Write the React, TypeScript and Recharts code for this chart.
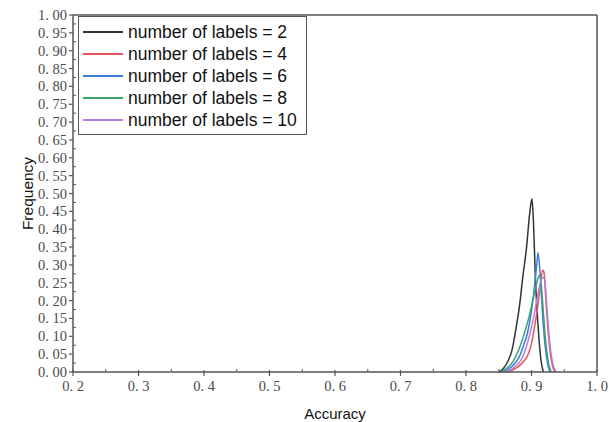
import { LineChart, Line, XAxis, YAxis, Label, ReferenceLine } from 'recharts'

// accuracy / frequency pairs, one pair of arrays per series
const acc2 = [0.85, 0.857, 0.864, 0.87, 0.876, 0.882, 0.887, 0.8925, 0.897, 0.9007, 0.903, 0.906, 0.91, 0.914, 0.918]
const freq2 = [0, 0.01, 0.03, 0.06, 0.118, 0.19, 0.27, 0.35, 0.44, 0.485, 0.42, 0.26, 0.13, 0.04, 0]

const acc4 = [0.86, 0.87, 0.88, 0.888, 0.895, 0.9, 0.905, 0.91, 0.914, 0.917, 0.919, 0.922, 0.926, 0.93, 0.935]
const freq4 = [0, 0.005, 0.015, 0.03, 0.05, 0.08, 0.13, 0.19, 0.25, 0.285, 0.28, 0.2, 0.1, 0.035, 0]

const acc6 = [0.855, 0.865, 0.875, 0.882, 0.888, 0.894, 0.899, 0.904, 0.908, 0.91, 0.913, 0.917, 0.921, 0.925, 0.928]
const freq6 = [0, 0.008, 0.025, 0.045, 0.075, 0.11, 0.16, 0.23, 0.3, 0.334, 0.28, 0.16, 0.07, 0.02, 0]

const acc8 = [0.852, 0.862, 0.872, 0.88, 0.886, 0.891, 0.897, 0.903, 0.908, 0.912, 0.914, 0.918, 0.922, 0.926, 0.93]
const freq8 = [0, 0.01, 0.03, 0.06, 0.09, 0.12, 0.16, 0.21, 0.25, 0.27, 0.26, 0.17, 0.08, 0.025, 0]

const acc10 = [0.858, 0.868, 0.878, 0.886, 0.892, 0.898, 0.903, 0.908, 0.913, 0.917, 0.92, 0.924, 0.928, 0.933, 0.938]
const freq10 = [0, 0.006, 0.02, 0.04, 0.07, 0.11, 0.15, 0.2, 0.245, 0.265, 0.26, 0.17, 0.08, 0.02, 0]

const labelCounts = [2, 4, 6, 8, 10]
const colors = ['#333333', '#e8535e', '#3b7ddd', '#3aa36e', '#b27fe3']

const xMajor = [0.2, 0.3, 0.4, 0.5, 0.6, 0.7, 0.8, 0.9, 1.0]
const xMinor = [0.25, 0.35, 0.45, 0.55, 0.65, 0.75, 0.85, 0.95]
const yMajor = [0, 0.05, 0.1, 0.15, 0.2, 0.25, 0.3, 0.35, 0.4, 0.45, 0.5, 0.55, 0.6, 0.65, 0.7, 0.75, 0.8, 0.85, 0.9, 0.95, 1.0]
const yMinor = [0.025, 0.075, 0.125, 0.175, 0.225, 0.275, 0.325, 0.375, 0.425, 0.475, 0.525, 0.575, 0.625, 0.675, 0.725, 0.775, 0.825, 0.875, 0.925, 0.975]

const series = [
  { acc: acc2, freq: freq2 },
  { acc: acc4, freq: freq4 },
  { acc: acc6, freq: freq6 },
  { acc: acc8, freq: freq8 },
  { acc: acc10, freq: freq10 },
].map((s, i) => ({
  name: `number of labels = ${labelCounts[i]}`,
  color: colors[i],
  data: s.acc.map((a, j) => ({ acc: a, freq: s.freq[j] })),
}))

const axisColor = '#555'
const tickFont = '"Liberation Serif", serif'
const sansFont = '"Liberation Sans", Arial, sans-serif'
const isMajor = (v: number, list: number[]) => list.some(m => Math.abs(m - v) < 1e-6)

const YTick = (props: any) => {
  const { x, y, payload } = props
  if (!isMajor(payload.value, yMajor)) {
    return <line x1={x} x2={x + 3} y1={y} y2={y} stroke={axisColor} strokeWidth={1} />
  }
  return (
    <g>
      <line x1={x - 4} x2={x} y1={y} y2={y} stroke={axisColor} strokeWidth={1.2} />
      <text x={x - 6} y={y} dy={5} textAnchor="end" fontSize={14.5} fill="#4a4a4a" fontFamily={tickFont}>
        {payload.value.toFixed(2).replace('.', '. ')}
      </text>
    </g>
  )
}

const XTick = (props: any) => {
  const { x, y, payload } = props
  if (!isMajor(payload.value, xMajor)) {
    return <line x1={x} x2={x} y1={y} y2={y - 3} stroke={axisColor} strokeWidth={1} />
  }
  return (
    <g>
      <line x1={x} x2={x} y1={y - 2} y2={y + 4} stroke={axisColor} strokeWidth={1.2} />
      <text x={x} y={y + 19} textAnchor="middle" fontSize={14.5} fill="#4a4a4a" fontFamily={tickFont}>
        {payload.value.toFixed(1).replace('.', '. ')}
      </text>
    </g>
  )
}

// legend sits inside the plot, so it is drawn as an overlay instead of recharts' Legend
const LegendBox = () => (
  <div
    style={{
      position: 'absolute',
      left: 78,
      top: 16,
      width: 218,
      border: '1.5px solid #555',
      background: '#fff',
      padding: '4px 5px 3px 4px',
      fontFamily: sansFont,
      fontSize: 17.5,
      color: '#111',
      lineHeight: '22px',
    }}
  >
    {series.map(s => (
      <div key={s.name} style={{ display: 'flex', alignItems: 'center', whiteSpace: 'nowrap' }}>
        <div style={{ width: 40, height: 1.5, background: s.color, marginRight: 5 }} />
        <span>{s.name}</span>
      </div>
    ))}
  </div>
)

export default function App() {
  return (
    <div style={{ position: 'absolute', left: 0, top: 0, width: 610, height: 422, background: '#fff', overflow: 'hidden' }}>
      <LineChart width={610} height={422} margin={{ top: 15, right: 13, left: 13, bottom: 5 }}>
        <XAxis
          type="number"
          dataKey="acc"
          domain={[0.2, 1.0]}
          ticks={[...xMajor, ...xMinor].sort((a, b) => a - b)}
          allowDataOverflow
          height={45}
          tickSize={0}
          tickMargin={0}
          tickLine={false}
          tick={<XTick />}
          interval={0}
          axisLine={{ stroke: axisColor, strokeWidth: 1.5 }}
        >
          <Label value="Accuracy" position="insideBottom" offset={-2} style={{ fontFamily: sansFont, fontSize: 15, fill: '#111' }} />
        </XAxis>
        <YAxis
          type="number"
          domain={[0, 1]}
          ticks={[...yMajor, ...yMinor].sort((a, b) => a - b)}
          width={60}
          tickSize={0}
          tickMargin={0}
          tickLine={false}
          tick={<YTick />}
          interval={0}
          axisLine={{ stroke: axisColor, strokeWidth: 1.5 }}
        >
          <Label
            value="Frequency"
            angle={-90}
            position="insideLeft"
            offset={14}
            style={{ textAnchor: 'middle', fontFamily: sansFont, fontSize: 15.5, fill: '#111' }}
          />
        </YAxis>
        <ReferenceLine y={1} stroke={axisColor} strokeWidth={1.5} />
        <ReferenceLine x={1} stroke={axisColor} strokeWidth={1.5} />
        {series.map(s => (
          <Line
            key={s.name}
            data={s.data}
            dataKey="freq"
            name={s.name}
            type="monotone"
            stroke={s.color}
            strokeWidth={1.5}
            dot={false}
            isAnimationActive={false}
          />
        ))}
      </LineChart>
      <LegendBox />
    </div>
  )
}
